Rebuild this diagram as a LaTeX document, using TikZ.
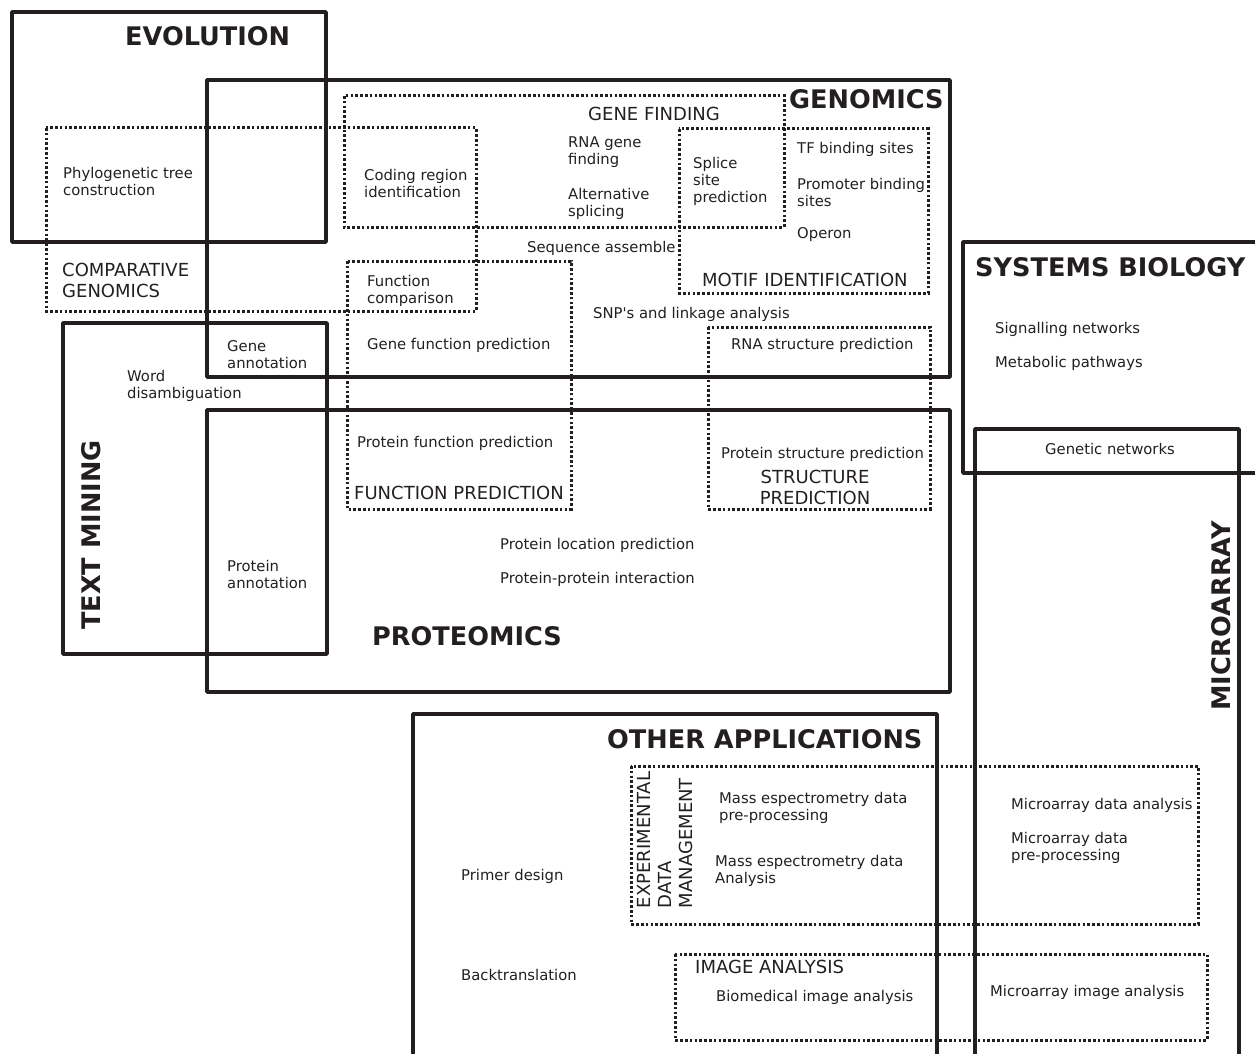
\documentclass[tikz,border=0pt]{standalone}
\usepackage{fontspec}
\setmainfont{DejaVu Sans}
\newfontfamily\rawsans{DejaVu Sans}
\definecolor{ink}{HTML}{231F20}
\newcommand{\fsm}{\fontsize{14.8}{17}\selectfont}
\newcommand{\fmd}{\fontsize{18}{21}\selectfont}
\newcommand{\fbg}{\fontsize{25.6}{29}\selectfont\bfseries}
\tikzset{
  solidbox/.style={draw=ink, line width=3.5pt, line join=round},
  dotbox/.style={draw=ink, line width=3pt, dash pattern=on 2.6pt off 2.2pt},
  lbl/.style={anchor=west, inner sep=0pt, align=left, text=ink, font=\fsm, yshift=-1pt},
  mid/.style={anchor=west, inner sep=0pt, align=left, text=ink, font=\fmd},
  big/.style={anchor=west, inner sep=0pt, text=ink, font=\fbg},
}
\begin{document}
\begin{tikzpicture}[x=1pt,y=-1pt]
\useasboundingbox (0,0) rectangle (1255,1054);
% solid boxes
\draw[solidbox] (12,12) rectangle (326,242);
\draw[solidbox] (207,80) rectangle (950,377);
\draw[solidbox] (207,410) rectangle (950,692);
\draw[solidbox] (63,323) rectangle (327,654);
\draw[solidbox] (1258,242) -- (963,242) -- (963,473) -- (1258,473);
\draw[solidbox] (975,1058) -- (975,429) -- (1239,429) -- (1239,1058);
\draw[solidbox] (413,1058) -- (413,714) -- (937,714) -- (937,1058);
% dotted boxes
\draw[dotbox] (46,128) rectangle (476,311);
\draw[dotbox] (344,96) rectangle (784,227);
\draw[dotbox] (679,129) rectangle (928,293);
\draw[dotbox] (347,261) rectangle (571,509);
\draw[dotbox] (708,327) rectangle (930,509);
\draw[dotbox] (631,766) rectangle (1198,924);
\draw[dotbox] (675,954) rectangle (1207,1040);
% titles
\node[big] (evo) at (125,36) {EVOLUTION};
\node[big] (gen) at (789,99) {GENOMICS};
\node[big] (sys) at (975,267) {SYSTEMS BIOLOGY};
\node[big] (prot) at (372,636) {PROTEOMICS};
\node[big] (oth) at (607,739) {OTHER APPLICATIONS};
\node[big, anchor=center, rotate=90] (tm) at (91,535) {TEXT MINING};
\node[big, anchor=center, rotate=90] (mic) at (1221,616) {MICROARRAY};
% medium labels
\node[mid] (gf) at (588,114) {GENE FINDING};
\node[mid] (cg) at (62,280.5) {COMPARATIVE\\GENOMICS};
\node[mid] (mi) at (702,280) {MOTIF IDENTIFICATION};
\node[mid] (fp) at (354,493) {FUNCTION PREDICTION};
\node[mid, align=center, anchor=center] (sp) at (815,487.5) {STRUCTURE\\PREDICTION};
\node[mid, anchor=center, rotate=90] (edm) at (665,840) {EXPERIMENTAL\\DATA\\MANAGEMENT};
\node[mid] (ia) at (695,967) {IMAGE ANALYSIS};
% small labels
\node[lbl] (phy) at (63,180.5) {Phylogenetic tree\\construction};
\node[lbl] (cod) at (364,182.5) {Coding region\\identification};
\node[lbl] (rna) at (568,151.5) {RNA gene\\finding};
\node[lbl] (alt) at (568,202.5) {Alternative\\splicing};
\node[lbl] (spl) at (693,180) {Splice\\site\\prediction};
\node[lbl] (tf) at (797,148) {TF binding sites};
\node[lbl] (pro) at (797,191.5) {Promoter binding\\sites};
\node[lbl] (ope) at (797,234) {Operon};
\node[lbl] (seq) at (527,247) {Sequence assemble};
\node[lbl] (fco) at (367,289.5) {Function\\comparison};
\node[lbl, font=\rawsans\fsm] (snp) at (593,313) {SNP's and linkage analysis};
\node[lbl] (gan) at (227,353.5) {Gene\\annotation};
\node[lbl] (gfp) at (367,344) {Gene function prediction};
\node[lbl] (rsp) at (731,344) {RNA structure prediction};
\node[lbl] (wd) at (127,384.5) {Word\\disambiguation};
\node[lbl] (sig) at (995,328) {Signalling networks};
\node[lbl] (met) at (995,362) {Metabolic pathways};
\node[lbl, anchor=center] (gn) at (1110,448) {Genetic networks};
\node[lbl] (pfp) at (357,442) {Protein function prediction};
\node[lbl] (psp) at (721,453) {Protein structure prediction};
\node[lbl] (pan) at (227,573.5) {Protein\\annotation};
\node[lbl] (plp) at (500,544) {Protein location prediction};
\node[lbl] (ppi) at (500,578) {Protein-protein interaction};
\node[lbl] (ms1) at (719,806.5) {Mass espectrometry data\\pre-processing};
\node[lbl] (ms2) at (715,869.5) {Mass espectrometry data\\Analysis};
\node[lbl] (mda) at (1011,804) {Microarray data analysis};
\node[lbl] (mdp) at (1011,846.5) {Microarray data\\pre-processing};
\node[lbl] (pd) at (461,875) {Primer design};
\node[lbl] (bt) at (461,974) {Backtranslation};
\node[lbl] (bia) at (716,996) {Biomedical image analysis};
\node[lbl] (mia) at (990,991) {Microarray image analysis};
\end{tikzpicture}
\end{document}
